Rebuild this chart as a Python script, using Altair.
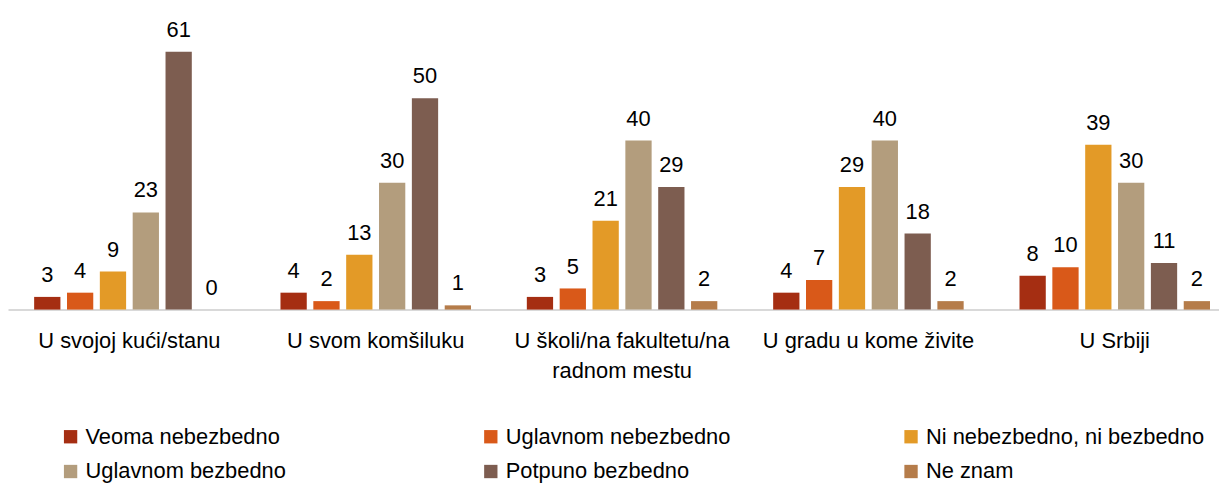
import altair as alt
import pandas as pd

categories = ["U svojoj kući/stanu", "U svom komšiluku", "U školi/na fakultetu/na radnom mestu",
              "U gradu u kome živite", "U Srbiji"]
series = ["Veoma nebezbedno", "Uglavnom nebezbedno", "Ni nebezbedno, ni bezbedno",
          "Uglavnom bezbedno", "Potpuno bezbedno", "Ne znam"]
colors = ["#A52E12", "#D95919", "#E39A27", "#B39D7D", "#7D5D50", "#B57C4A"]

veoma = [3, 4, 3, 4, 8]
uglavnom_ne = [4, 2, 5, 7, 10]
ni = [9, 13, 21, 29, 39]
uglavnom_da = [23, 30, 40, 40, 30]
potpuno = [61, 50, 29, 18, 11]
ne_znam = [0, 1, 2, 2, 2]

values = [veoma, uglavnom_ne, ni, uglavnom_da, potpuno, ne_znam]
rows = []
for s, vals in zip(series, values):
    for c, v in zip(categories, vals):
        rows.append({"cat": c, "series": s, "value": v})
df = pd.DataFrame(rows)

FONT = "Liberation Sans"
FS = 22

x = alt.X("cat:N", sort=categories, title=None,
          scale=alt.Scale(paddingInner=0.2, paddingOuter=0.058, align=0.8),
          axis=alt.Axis(labelAngle=0, ticks=False, domainColor="#d9d9d9", domainWidth=2,
                        labelFont=FONT, labelFontSize=FS, labelColor="#000000",
                        labelPadding=21, labelLimit=400, labelLineHeight=30,
                        labelExpr="datum.label == 'U školi/na fakultetu/na radnom mestu' ? ['U školi/na fakultetu/na', 'radnom mestu'] : datum.label"))
xo = alt.XOffset("series:N", sort=series, scale=alt.Scale(paddingInner=0.2, paddingOuter=0.1))
y = alt.Y("value:Q", scale=alt.Scale(domain=[0, 71], nice=False), axis=None)

base = alt.Chart(df).encode(x=x, xOffset=xo, y=y)

bars = base.mark_bar().encode(
    color=alt.Color("series:N", sort=series, title=None,
                    scale=alt.Scale(domain=series, range=colors),
                    legend=alt.Legend(orient="none", legendX=52, legendY=419, columns=3,
                                      direction="horizontal", gridAlign="all",
                                      columnPadding=116, rowPadding=13,
                                      symbolType="square", symbolSize=180, symbolStrokeWidth=0,
                                      labelFont=FONT, labelFontSize=FS, labelColor="#000000",
                                      labelLimit=400, labelOffset=4))
)

labels = base.mark_text(baseline="bottom", dy=-10, font=FONT, fontSize=FS, color="#000000").encode(
    text="value:Q")

chart = (bars + labels).properties(width=1219, height=302, padding=0).configure_view(stroke=None)

chart.save("out.html", embed_options={"renderer": "svg", "actions": False})
